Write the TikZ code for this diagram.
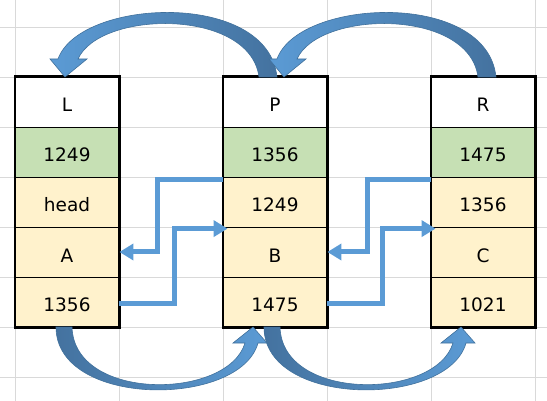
\documentclass[tikz,border=0pt]{standalone}
\usepackage{fontspec}
\setmainfont{DejaVu Sans}
\usetikzlibrary{arrows.meta,fit}
\definecolor{gridc}{HTML}{D9D9D9}
\definecolor{greenc}{HTML}{C6E0B4}
\definecolor{yellowc}{HTML}{FFF2CC}
\definecolor{connc}{HTML}{5B9BD5}
\definecolor{bigdark}{HTML}{44729F}
\definecolor{biglight}{HTML}{5B9BD5}
\definecolor{bigline}{HTML}{41719C}
\tikzset{
  gridline/.style={draw=gridc, line width=0.8pt},
  cell/.style={draw=black, line width=0.8pt, minimum width=104pt, minimum height=50pt,
    inner sep=0pt, text height=20pt, text depth=0pt, font=\fontsize{18.5}{20}\selectfont},
  headcell/.style={cell, fill=white},
  keycell/.style={cell, fill=greenc},
  datacell/.style={cell, fill=yellowc},
  frame/.style={draw=black, line width=2.2pt, inner sep=0pt},
  conn/.style={draw=connc, line width=5pt, -{Triangle[length=14pt,width=16pt]}},
  bigarrow/.style={draw=bigline, line width=0.6pt}
}
\begin{document}
\begin{tikzpicture}[x={(1pt,0pt)}, y={(0pt,-1pt)}]
\useasboundingbox (0,0) rectangle (547,401);
% grid
\foreach \gx in {15,119,223,327,431,535} \draw[gridline] (\gx,0) -- (\gx,401);
\foreach \gy in {27,77,127,177,227,277,327,377} \draw[gridline] (0,\gy) -- (547,\gy);
% cells
\foreach \col/\cx/\a/\b/\c/\d/\e in {L/67/L/1249/head/A/1356, P/275/P/1356/1249/B/1475, R/483/R/1475/1356/C/1021}{
  \node[headcell] (\col0) at (\cx,102) {\a};
  \node[keycell]  (\col1) at (\cx,152) {\b};
  \node[datacell] (\col2) at (\cx,202) {\c};
  \node[datacell] (\col3) at (\cx,252) {\d};
  \node[datacell] (\col4) at (\cx,302) {\e};
  \node[frame, fit=(\col0)(\col4)] (\col f) {};
}
% elbow connectors
\draw[conn] ([yshift=-2.5pt]P2.north west) -- ++(-65,0) |- (L3.east);
\draw[conn] ([yshift=-2pt]L4.east) -- ++(55,0) |- ([xshift=5pt,yshift=-2pt]P3.north west);
\draw[conn] ([yshift=-2.5pt]R2.north west) -- ++(-63,0) |- (P3.east);
\draw[conn] ([yshift=-2pt]P4.east) -- ++(55,0) |- ([xshift=5pt,yshift=-2pt]R3.north west);
% big curved arrows, top
\shadedraw[bigarrow, left color=biglight, right color=bigdark]
  (259,77) .. controls (250,8) and (100,10) .. (78,59) -- (87,59) -- (65,77) -- (50,59) -- (58,59)
  .. controls (80,-2) and (268,-10) .. (277,77) -- cycle;
\begin{scope}[xshift=219pt]
\shadedraw[bigarrow, left color=biglight, right color=bigdark]
  (259,77) .. controls (250,8) and (100,10) .. (78,59) -- (87,59) -- (65,77) -- (50,59) -- (58,59)
  .. controls (80,-2) and (268,-10) .. (277,77) -- cycle;
\end{scope}
% big curved arrows, bottom
\begin{scope}[xshift=208pt]
\shadedraw[bigarrow, left color=bigdark, right color=biglight]
  (56,327) .. controls (56,408) and (240,408) .. (258,343) -- (267,343) -- (253,327) -- (233,343) -- (245,343)
  .. controls (228,400) and (74,402) .. (72,327) -- cycle;
\end{scope}
\shadedraw[bigarrow, left color=bigdark, right color=biglight]
  (56,327) .. controls (56,408) and (240,408) .. (258,343) -- (267,343) -- (253,327) -- (233,343) -- (245,343)
  .. controls (228,400) and (74,402) .. (72,327) -- cycle;
\end{tikzpicture}
\end{document}
